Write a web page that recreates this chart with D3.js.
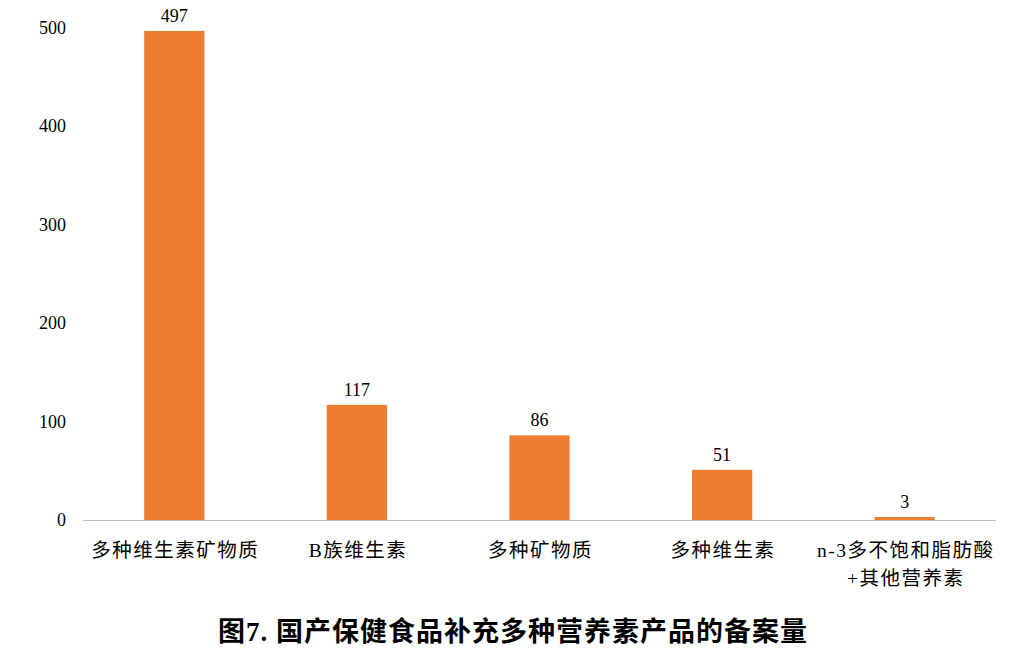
<!DOCTYPE html><html><head><meta charset="utf-8"><script src="https://cdn.jsdelivr.net/npm/d3@7"></script>
<style>body{margin:0;background:#fff}</style></head><body><svg id="c" width="1023" height="669"></svg>
<script>
const categories=[["多种维生素矿物质"],["B族维生素"],["多种矿物质"],["多种维生素"],["n-3多不饱和脂肪酸","+其他营养素"]];
const values=[497,117,86,51,3];
const ticks=[0,100,200,300,400,500];
const title="图7. 国产保健食品补充多种营养素产品的备案量";
const svg=d3.select("#c");
const font="'Liberation Serif','Noto Sans CJK SC',serif";
const x=d3.scaleBand().domain(d3.range(5)).range([83,996]).paddingInner(0.67).paddingOuter(0.335);
const y=d3.scaleLinear().domain([0,500]).range([520,28]);
svg.selectAll(".t").data(ticks).enter().append("text").attr("x",66).attr("y",d=>y(d)+6).attr("text-anchor","end")
 .attr("font-family",font).attr("font-size",18).text(d=>d);
svg.append("line").attr("x1",83).attr("x2",996).attr("y1",y(0)+0.5).attr("y2",y(0)+0.5).attr("stroke","#bfbfbf");
svg.selectAll(".b").data(values).enter().append("rect").attr("x",(d,i)=>x(i)).attr("width",x.bandwidth())
 .attr("y",d=>y(d)).attr("height",d=>y(0)-y(d)).attr("fill","#ed7d31");
svg.selectAll(".v").data(values).enter().append("text").attr("x",(d,i)=>x(i)+x.bandwidth()/2).attr("y",d=>y(d)-9)
 .attr("text-anchor","middle").attr("font-family",font).attr("font-size",18).text(d=>d);
categories.forEach((c,i)=>c.forEach((s,j)=>svg.append("text").attr("x",x(i)+x.bandwidth()/2+1).attr("y",557+j*28)
 .attr("text-anchor","middle").attr("font-family",font).attr("font-size",19.5).attr("letter-spacing",1.5).text(s)));
svg.append("text").attr("x",513).attr("y",641).attr("text-anchor","middle").attr("font-family",font)
 .attr("font-size",27).attr("font-weight","bold").attr("letter-spacing",1).text(title);
</script></body></html>
